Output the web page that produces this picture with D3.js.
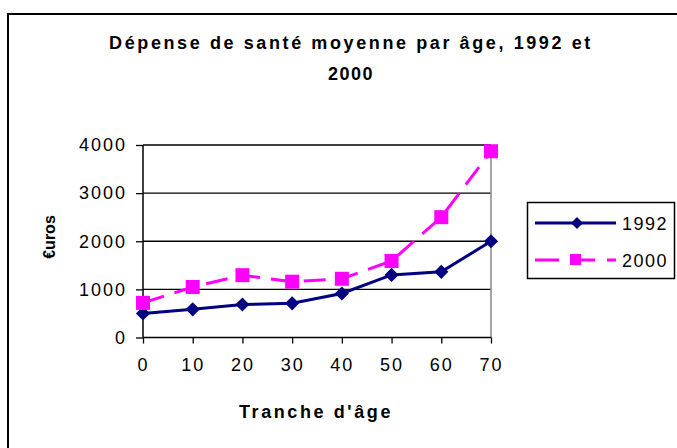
<!DOCTYPE html>
<html>
<head>
<meta charset="utf-8">
<script src="https://cdn.jsdelivr.net/npm/d3@7"></script>
<style>
  body { margin: 0; background: #fff; }
  text { font-family: "Liberation Sans", Arial, sans-serif; }
</style>
</head>
<body>
<div id="chart"></div>
<script>
var ages = [0, 10, 20, 30, 40, 50, 60, 70];
var v1992 = [500, 585, 685, 710, 915, 1300, 1365, 2000];
var v2000 = [720, 1050, 1295, 1160, 1220, 1590, 2500, 3870];
var yTicks = [0, 1000, 2000, 3000, 4000];
var seriesNames = ["1992", "2000"];

function init() {
  var width = 677, height = 448;
  var left = 143, right = 491, top = 145, bottom = 337.5;

  var svg = d3.select("#chart").append("svg")
    .attr("width", width)
    .attr("height", height);

  // chart area border
  svg.append("rect")
    .attr("x", 8).attr("y", 14)
    .attr("width", 700).attr("height", 460)
    .attr("fill", "#fff")
    .attr("stroke", "#000")
    .attr("stroke-width", 2);

  svg.append("text")
    .attr("x", 351).attr("y", 49)
    .attr("text-anchor", "middle")
    .style("font-size", "18px").style("font-weight", "bold")
    .style("letter-spacing", "2.6px")
    .text("Dépense de santé moyenne par âge, 1992 et");
  svg.append("text")
    .attr("x", 351).attr("y", 80)
    .attr("text-anchor", "middle")
    .style("font-size", "18px").style("font-weight", "bold")
    .style("letter-spacing", "1.5px")
    .text("2000");

  var x = d3.scaleLinear().domain([0, 70]).range([left, right]);
  var y = d3.scaleLinear().domain([0, 4000]).range([bottom, top]);

  // gridlines
  svg.append("g").selectAll("line")
    .data(yTicks.slice(1))
    .enter().append("line")
    .attr("x1", left).attr("x2", right)
    .attr("y1", function(d) { return y(d); })
    .attr("y2", function(d) { return y(d); })
    .attr("stroke", "#000").attr("stroke-width", 1.3);

  // plot right border (grey)
  svg.append("line")
    .attr("x1", right).attr("x2", right)
    .attr("y1", top).attr("y2", bottom)
    .attr("stroke", "#888").attr("stroke-width", 1.5);

  var yAxis = d3.axisLeft(y).tickValues(yTicks).tickFormat(d3.format("d")).tickSize(7).tickPadding(9);
  var gy = svg.append("g").attr("transform", "translate(" + left + ",0)").call(yAxis);
  var xAxis = d3.axisBottom(x).tickValues(ages).tickFormat(d3.format("d")).tickSize(6).tickPadding(15);
  var gx = svg.append("g").attr("transform", "translate(0," + bottom + ")").call(xAxis);

  [gy, gx].forEach(function(g) {
    g.select(".domain").attr("stroke", "#000").attr("stroke-width", 1.5);
    g.selectAll(".tick line").attr("stroke", "#000").attr("stroke-width", 1.3);
    g.selectAll(".tick text")
      .style("font-size", "18px")
      .style("letter-spacing", "2px")
      .style("font-family", "'Liberation Sans', Arial, sans-serif")
      .attr("fill", "#000");
  });
  gy.select(".domain").attr("d", "M0," + top + "V" + bottom);
  gx.select(".domain").attr("d", "M" + left + ",0H" + right);

  svg.append("text")
    .attr("transform", "translate(55,237) rotate(-90)")
    .attr("text-anchor", "middle")
    .style("font-size", "16px").style("font-weight", "bold")
    .text("€uros");

  svg.append("text")
    .attr("x", 316).attr("y", 418)
    .attr("text-anchor", "middle")
    .style("font-size", "18px").style("font-weight", "bold")
    .style("letter-spacing", "2.6px")
    .text("Tranche d'âge");

  var line = d3.line()
    .x(function(d, i) { return x(ages[i]); })
    .y(function(d) { return y(d); });

  svg.append("path")
    .datum(v1992)
    .attr("d", line)
    .attr("fill", "none")
    .attr("stroke", "#000080")
    .attr("stroke-width", 3);

  svg.append("path")
    .datum(v2000)
    .attr("d", line)
    .attr("fill", "none")
    .attr("stroke", "#ff00ff")
    .attr("stroke-width", 3)
    .attr("stroke-dasharray", "22,11");

  var diamond = d3.symbol().type(d3.symbolSquare).size(100);

  svg.append("g").selectAll("path")
    .data(v1992)
    .enter().append("path")
    .attr("d", diamond)
    .attr("transform", function(d, i) {
      return "translate(" + x(ages[i]) + "," + y(d) + ") rotate(45)";
    })
    .attr("fill", "#000080");

  svg.append("g").selectAll("rect")
    .data(v2000)
    .enter().append("rect")
    .attr("x", function(d, i) { return x(ages[i]) - 7; })
    .attr("y", function(d) { return y(d) - 7; })
    .attr("width", 14).attr("height", 14)
    .attr("fill", "#ff00ff");

  // legend
  var lg = svg.append("g");
  lg.append("rect")
    .attr("x", 527.5).attr("y", 202.5)
    .attr("width", 147).attr("height", 76)
    .attr("fill", "#fff")
    .attr("stroke", "#000").attr("stroke-width", 1.5);

  var rows = [223, 260];
  seriesNames.forEach(function(name, i) {
    var ly = rows[i];
    lg.append("line")
      .attr("x1", 535).attr("x2", 616)
      .attr("y1", ly).attr("y2", ly)
      .attr("stroke", i === 0 ? "#000080" : "#ff00ff")
      .attr("stroke-width", 3)
      .attr("stroke-dasharray", i === 0 ? null : "24,12");
    if (i === 0) {
      lg.append("path")
        .attr("d", d3.symbol().type(d3.symbolSquare).size(72))
        .attr("transform", "translate(577," + ly + ") rotate(45)")
        .attr("fill", "#000080");
    } else {
      lg.append("rect")
        .attr("x", 570).attr("y", ly - 6)
        .attr("width", 11).attr("height", 11)
        .attr("fill", "#ff00ff");
    }
    lg.append("text")
      .attr("x", 622).attr("y", ly + 7)
      .style("font-size", "18px")
      .style("letter-spacing", "1.5px")
      .text(name);
  });
}

window.onload = init;
</script>
</body>
</html>
